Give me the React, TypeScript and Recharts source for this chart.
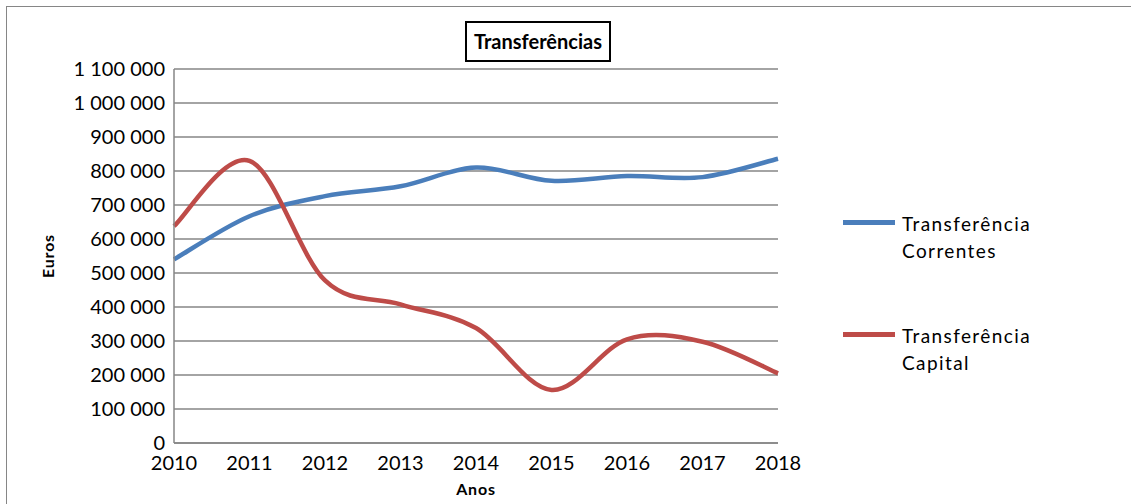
import { CartesianGrid, Legend, Line, LineChart, XAxis, YAxis } from "recharts";

const years = ["2010", "2011", "2012", "2013", "2014", "2015", "2016", "2017", "2018"];
const correntes = [540000, 667000, 726000, 755000, 810000, 771000, 785000, 782000, 836000];
const capital = [638000, 830000, 478000, 408000, 338000, 156000, 305000, 298000, 205000];
const yTicks = [0, 100000, 200000, 300000, 400000, 500000, 600000, 700000, 800000, 900000, 1000000, 1100000];
const seriesOrder = ["correntes", "capital"];

const data = years.map((year, i) => ({
  year,
  correntes: correntes[i],
  capital: capital[i],
}));

const FONT = "Lato, 'Open Sans', sans-serif";

// Excel-style smoothing: Catmull-Rom through every point
function excelSmooth(context: any) {
  let pts: number[][] = [];
  return {
    areaStart() {},
    areaEnd() {},
    lineStart() {
      pts = [];
    },
    point(x: number, y: number) {
      pts.push([+x, +y]);
    },
    lineEnd() {
      const n = pts.length;
      if (!n) return;
      context.moveTo(pts[0][0], pts[0][1]);
      for (let i = 0; i < n - 1; i++) {
        const p0 = pts[Math.max(i - 1, 0)];
        const p1 = pts[i];
        const p2 = pts[i + 1];
        const p3 = pts[Math.min(i + 2, n - 1)];
        context.bezierCurveTo(
          p1[0] + (p2[0] - p0[0]) / 6,
          p1[1] + (p2[1] - p0[1]) / 6,
          p2[0] - (p3[0] - p1[0]) / 6,
          p2[1] - (p3[1] - p1[1]) / 6,
          p2[0],
          p2[1]
        );
      }
    },
  };
}

const fmt = (v: number) => v.toLocaleString("en-US").replace(/,/g, " ");

function renderLegend(props: any) {
  const items = [...(props.payload || [])].sort(
    (a: any, b: any) => seriesOrder.indexOf(a.dataKey) - seriesOrder.indexOf(b.dataKey)
  );
  return (
    <div style={{ fontFamily: FONT, fontSize: 19, letterSpacing: 1.4, color: "#000" }}>
      {items.map((entry: any) => {
        const [first, ...rest] = String(entry.value).split(" ");
        return (
          <div key={entry.value} style={{ display: "flex", height: 112 }}>
            <div
              style={{
                width: 52,
                height: 5,
                background: entry.color,
                marginTop: 10,
                marginRight: 7,
              }}
            />
            <div style={{ lineHeight: "27px" }}>
              <div>{first}</div>
              <div>{rest.join(" ")}</div>
            </div>
          </div>
        );
      })}
    </div>
  );
}

export default function App() {
  return (
    <div style={{ position: "relative", width: 1131, height: 504, background: "#fff", overflow: "hidden" }}>
      <style>{"body{margin:0}"}</style>
      <div
        style={{
          position: "absolute",
          left: 6,
          top: 6,
          width: 1200,
          height: 600,
          borderLeft: "1.5px solid #868686",
          borderTop: "1.5px solid #868686",
        }}
      />
      <div
        style={{
          position: "absolute",
          left: 465,
          top: 21,
          width: 142,
          height: 37,
          border: "2px solid #000",
          fontFamily: FONT,
          fontWeight: 700,
          fontSize: 20,
          lineHeight: "37px",
          textAlign: "center",
        }}
      >
        Transferências
      </div>
      <LineChart
        width={1131}
        height={504}
        data={data}
        margin={{ top: 69, right: 353, left: 54, bottom: 21 }}
        style={{ position: "absolute", left: 0, top: 0 }}
      >
        <CartesianGrid vertical={false} stroke="#868686" strokeWidth={1.5} />
        <XAxis
          dataKey="year"
          height={40}
          stroke="#868686"
          strokeWidth={1.5}
          tickSize={0}
          tickMargin={13}
          tick={{ fontSize: 20, fill: "#000", fontFamily: FONT }}
          label={{
            value: "Anos",
            position: "insideBottom",
            offset: -12,
            style: { fontSize: 16, fontWeight: 700, letterSpacing: 0.8, fill: "#000", fontFamily: FONT },
          }}
          interval={0}
        />
        <YAxis
          width={120}
          domain={[0, 1100000]}
          ticks={yTicks}
          stroke="#868686"
          strokeWidth={1.5}
          tickSize={0}
          tickMargin={9}
          tickFormatter={fmt}
          tick={{ fontSize: 20, fill: "#000", fontFamily: FONT }}
          label={{
            value: "Euros",
            angle: -90,
            position: "insideLeft",
            offset: -6,
            style: {
              fontSize: 16,
              fontWeight: 700,
              letterSpacing: 0.8,
              fill: "#000",
              fontFamily: FONT,
              textAnchor: "middle",
            },
          }}
        />
        <Legend
          layout="vertical"
          align="center"
          verticalAlign="middle"
          content={renderLegend}
          wrapperStyle={{ left: 843, top: 210, width: 240 }}
        />
        <Line
          type={excelSmooth as any}
          dataKey="correntes"
          name="Transferência Correntes"
          stroke="#4A7EBB"
          strokeWidth={4.5}
          dot={false}
          activeDot={false}
          isAnimationActive={false}
        />
        <Line
          type={excelSmooth as any}
          dataKey="capital"
          name="Transferência Capital"
          stroke="#BE4B48"
          strokeWidth={4.5}
          dot={false}
          activeDot={false}
          isAnimationActive={false}
        />
      </LineChart>
    </div>
  );
}
